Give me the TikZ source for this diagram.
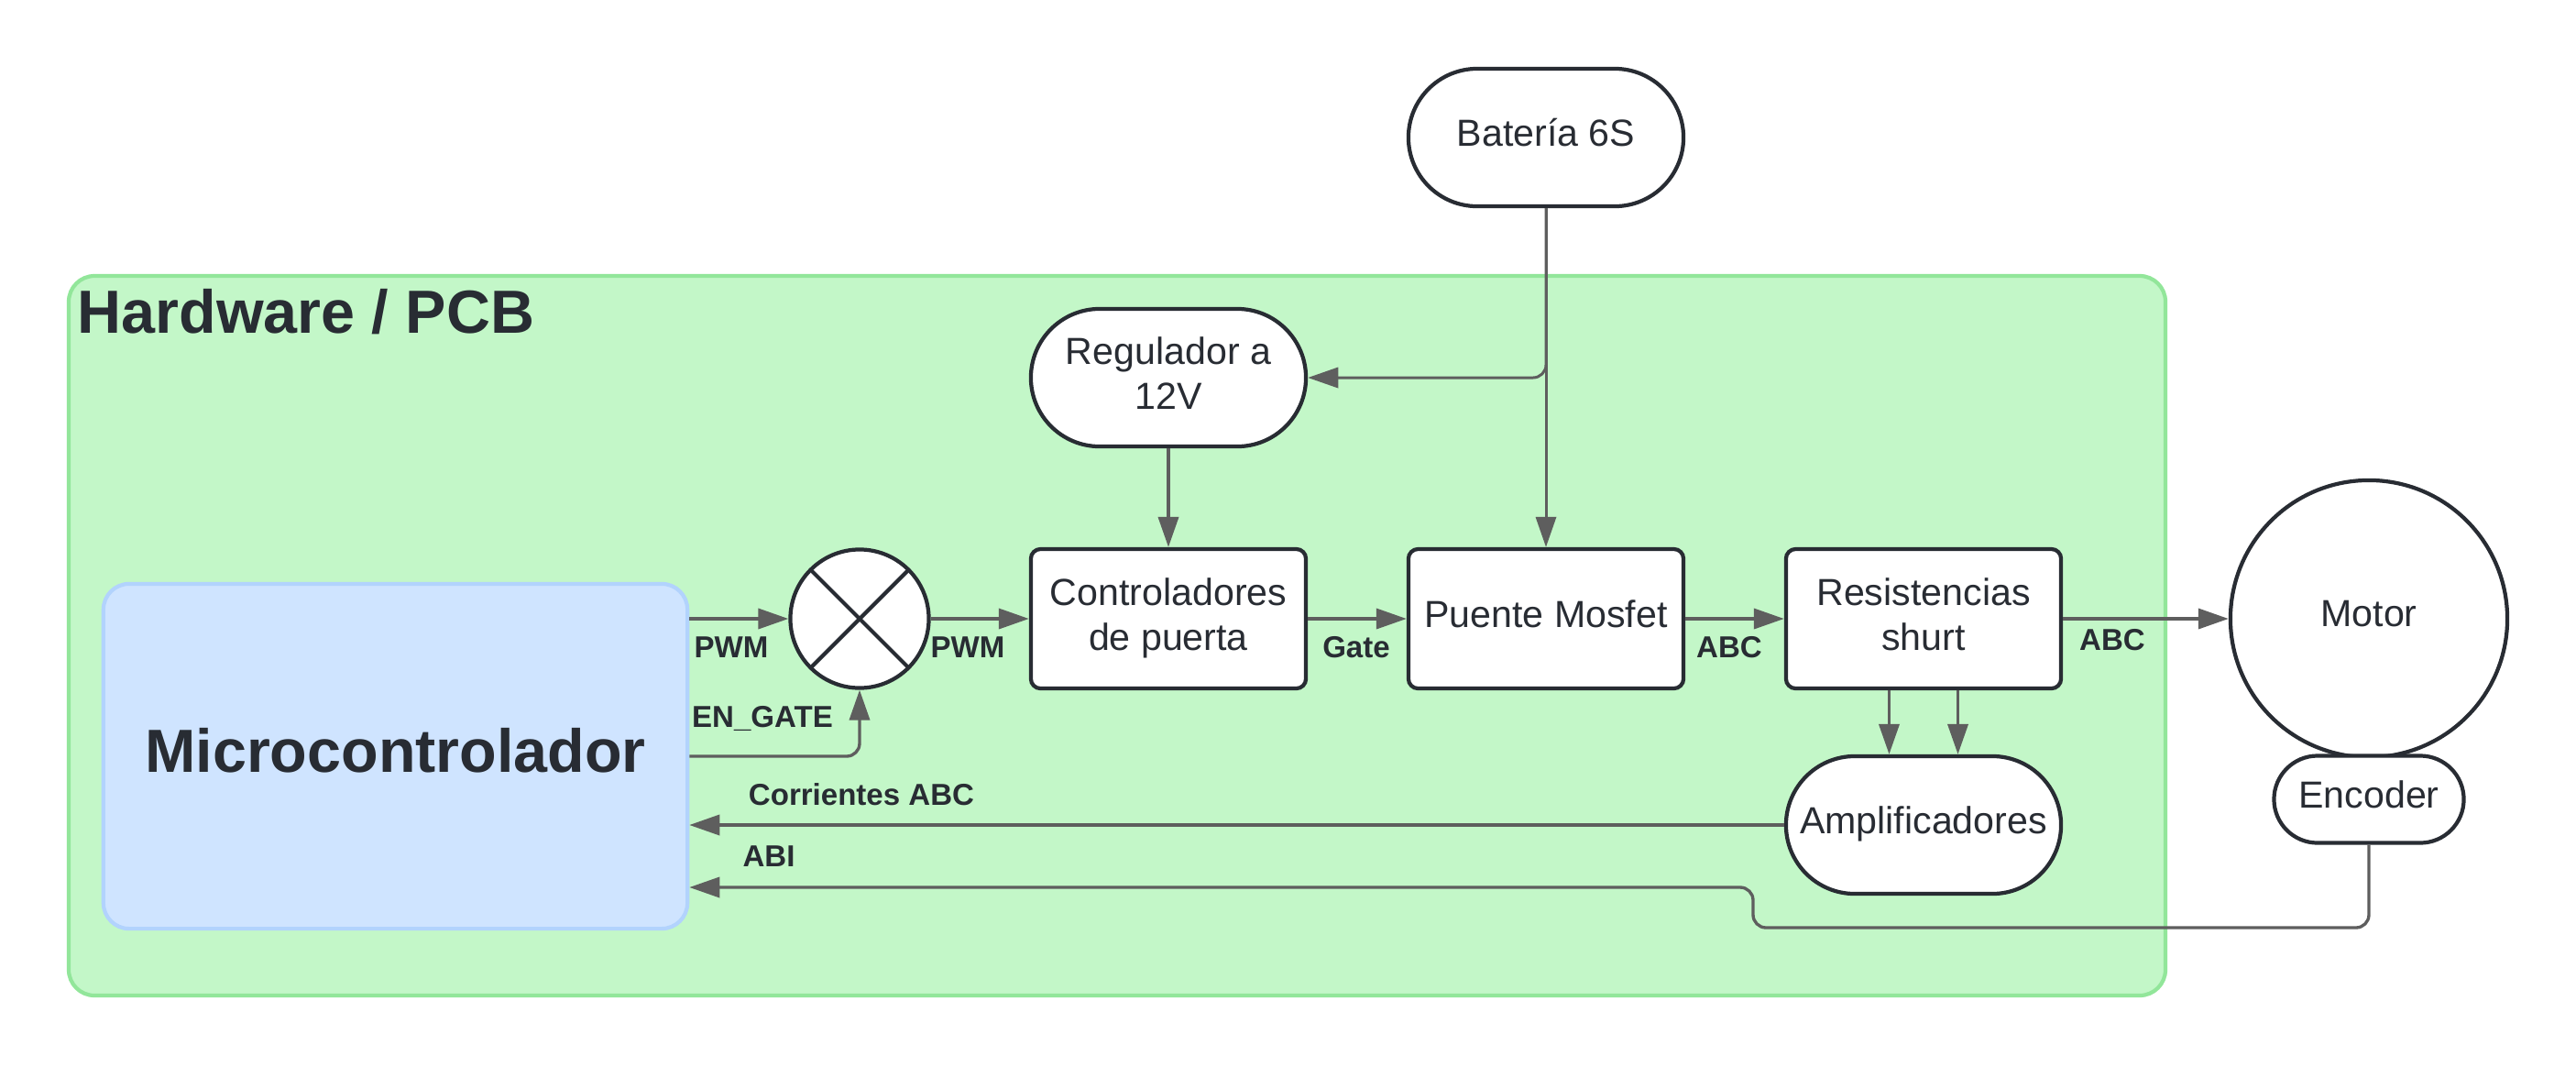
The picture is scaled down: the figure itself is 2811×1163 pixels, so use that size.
\documentclass[tikz,border=0pt]{standalone}
\usepackage{fontspec}
\setmainfont{Liberation Sans}
\usetikzlibrary{arrows.meta,positioning}
\definecolor{pcbfill}{HTML}{C3F7C8}
\definecolor{pcbline}{HTML}{92E69A}
\definecolor{mcufill}{HTML}{CFE4FF}
\definecolor{mculine}{HTML}{B2D3FD}
\definecolor{ink}{HTML}{282C33}
\definecolor{wire}{HTML}{5E5E5E}

\begin{document}
\begin{tikzpicture}[x=0.01cm,y=-0.01cm,
		block/.style={draw=ink,line width=1.2pt,fill=white,rounded corners=3pt,minimum width=3cm,minimum height=1.52cm,inner sep=1pt,align=center,text=ink,text depth=0.3em,font=\fontsize{11.7}{14}\selectfont},
		pill/.style={block,rounded corners=0.75cm,minimum height=1.5cm},
		sig/.style={draw=wire,line width=0.95pt,-{Triangle[length=9.4pt,width=6.3pt]},rounded corners=4pt},
		lbl/.style={text=ink,font=\fontsize{9.4}{11}\selectfont\bfseries,inner sep=0pt}]
	\useasboundingbox (0,0) rectangle (2811,1163);
	\draw[draw=pcbline,fill=pcbfill,line width=1.2pt,rounded corners=8pt] (75,301) rectangle (2363,1086);
	\node[anchor=base west,text=ink,font=\fontsize{18.9}{22}\selectfont\bfseries,inner sep=0pt] (title) at (84,363) {Hardware / PCB};

	\node[draw=mculine,fill=mcufill,line width=1.2pt,rounded corners=8pt,minimum width=6.37cm,minimum height=3.76cm,text=ink,text depth=0.36em,font=\fontsize{18.9}{22}\selectfont\bfseries] (mcu) at (431.5,825) {Microcontrolador};
	\node[draw=ink,line width=1.2pt,fill=white,circle,minimum size=1.51cm,
		path picture={\draw[ink,line width=1.2pt] (path picture bounding box.north west) -- (path picture bounding box.south east)
			(path picture bounding box.north east) -- (path picture bounding box.south west);}] (mix) at (938,675) {};
	\node[pill] (bat) at (1687,150) {Batería 6S};
	\node[pill] (reg) at (1275,412) {Regulador a\\12V};
	\node[block] (ctl) at (1275,675) {Controladores\\de puerta};
	\node[block] (mos) at (1687,675) {Puente Mosfet};
	\node[block] (res) at (2099,675) {Resistencias\\shurt};
	\node[pill] (amp) at (2099,900) {Amplificadores};
	\node[block,circle,rounded corners=0pt,minimum size=3.02cm] (mot) at (2585,675) {Motor};
	\node[pill,rounded corners=0.475cm,minimum width=2.07cm,minimum height=0.95cm] (enc) at (2585,872) {Encoder};
	\coordinate (abiturn) at (1913,1012);
	\coordinate (abiin) at (mcu.east |- 0,968);

	\draw[sig] (mcu.east |- mix.west) -- (mix.west);
	\draw[sig] (mcu.east) -| (mix.south);
	\draw[sig] (mix.east) -- (ctl.west);
	\draw[sig] (ctl.east) -- (mos.west);
	\draw[sig] (mos.east) -- (res.west);
	\draw[sig] (res.east) -- (mot.west);
	\draw[sig] (reg.south) -- (ctl.north);
	\draw[sig,line width=0.85pt] (bat.south) -- (mos.north);
	\draw[sig,line width=0.85pt] (bat.south) |- (reg.east);
	\draw[sig] ([xshift=-0.375cm]res.south) -- ([xshift=-0.375cm]amp.north);
	\draw[sig] ([xshift=0.375cm]res.south) -- ([xshift=0.375cm]amp.north);
	\draw[sig] (amp.west) -- (mcu.east |- amp.west);
	\draw[sig] (enc.south) |- (abiturn) |- (abiin);

	\foreach \x/\y/\txt/\name in {
		798/706/PWM/pwmin,
		1056/706/PWM/pwmout,
		832/784/EN\_GATE/engate,
		1480/706/Gate/gate,
		1887/706/ABC/abcmos,
		2305/698/ABC/abcmot,
		940/867/Corrientes ABC/corr,
		839/934/ABI/abi
	}
	{
		\node[lbl] (\name) at (\x,\y) {\txt};
	}
\end{tikzpicture}
\end{document}
